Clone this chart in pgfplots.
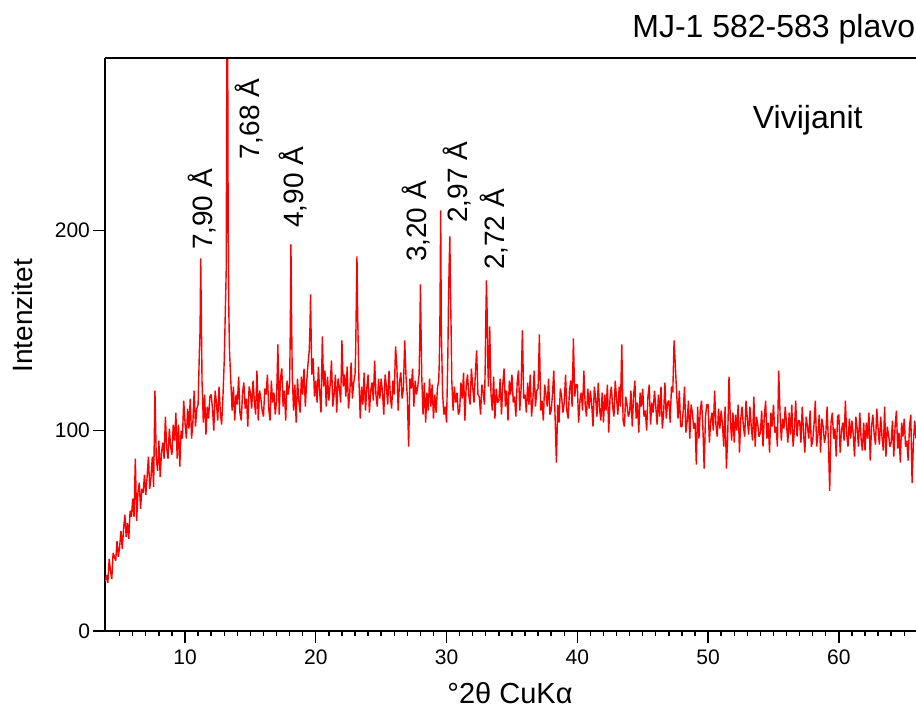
\documentclass[border=0pt]{standalone}
\usepackage{pgfplots}
\pgfplotsset{compat=1.18}
\usepackage{fontspec}
\setmainfont{Liberation Sans}
\begin{document}
\begin{tikzpicture}
\path[use as bounding box] (-52.5pt,-39pt) rectangle (405.5pt,315.5pt);
\begin{axis}[
  at={(0,0)}, anchor=south west,
  scale only axis, width=405.5pt, height=286.5pt,
  xmin=3.88, xmax=65.9, ymin=0, ymax=286,
  axis x line*=bottom, axis y line*=left,
  axis line style={line width=0.9pt, black, -},
  xtick={10,20,...,60}, minor xtick={5,6,...,65},
  ytick={0,100,200},
  tick align=outside,
  major tick length=6pt, minor tick length=2.5pt,
  tick style={line width=0.7pt, black},
  /pgf/number format/assume math mode=true,
  ticklabel style={font=\fontsize{10.5}{12}\selectfont},
  yticklabel style={xshift=2pt},
  xlabel={°2θ CuKα},
  xlabel style={at={(axis description cs:0.4994,-0.1257)}, anchor=base, font=\fontsize{14.5}{17}\selectfont},
  ylabel={Intenzitet},
  ylabel style={at={(axis description cs:-0.0888,0.55)}, anchor=base, font=\fontsize{14}{17}\selectfont},
  clip mode=individual,
]
\addplot[red, line width=0.7pt, line join=bevel, mark=none] coordinates {
(3.9,25)
(4.0,28)(4.1,24)(4.2,36)(4.3,30)(4.4,26)(4.5,39)(4.6,37)(4.7,35)(4.8,45)(4.9,37)
(5.0,42)(5.1,50)(5.2,41)(5.3,51)(5.4,58)(5.5,47)(5.6,54)(5.7,46)(5.8,60)(5.9,57)
(6.0,66)(6.1,57)(6.2,86)(6.3,55)(6.4,69)(6.5,74)(6.6,61)(6.7,71)(6.8,69)(6.9,78)
(7.0,68)(7.1,77)(7.2,87)(7.3,71)(7.4,77)(7.5,87)(7.6,72)(7.7,120)(7.8,86)(7.9,80)
(8.0,95)(8.1,77)(8.2,89)(8.3,94)(8.4,86)(8.5,107)(8.6,91)(8.7,86)(8.8,101)(8.9,92)
(9.0,88)(9.1,103)(9.2,95)(9.3,109)(9.4,86)(9.5,103)(9.6,82)(9.7,100)(9.8,96)(9.9,115)
(10.0,104)(10.1,96)(10.2,111)(10.3,101)(10.4,116)(10.5,96)(10.6,104)(10.7,120)(10.8,102)(10.9,111)
(11.0,113)(11.1,140)(11.15,150)(11.2,186)(11.25,155)(11.3,125)(11.4,104)(11.5,118)(11.6,98)(11.7,112)(11.8,106)(11.9,117)
(12.0,118)(12.1,111)(12.2,100)(12.3,120)(12.4,114)(12.5,105)(12.6,122)(12.7,109)(12.8,103)(12.9,117)
(13.0,135)(13.1,165)(13.15,180)(13.2,290)(13.25,320)(13.3,200)(13.35,160)(13.4,140)(13.5,125)(13.6,110)(13.7,122)(13.8,105)(13.9,118)
(14.0,113)(14.1,127)(14.2,109)(14.3,105)(14.4,119)(14.5,124)(14.6,111)(14.7,116)(14.8,102)(14.9,122)
(15.0,119)(15.1,111)(15.2,125)(15.3,115)(15.4,108)(15.5,130)(15.6,105)(15.7,120)(15.8,116)(15.9,110)
(16.0,107)(16.1,121)(16.2,118)(16.3,128)(16.4,111)(16.5,105)(16.6,125)(16.7,114)(16.8,119)(16.9,108)
(17.0,115)(17.1,143)(17.2,108)(17.3,126)(17.4,131)(17.5,112)(17.6,120)(17.7,105)(17.8,125)(17.9,118)
(18.0,124)(18.05,150)(18.1,193)(18.15,155)(18.2,128)(18.3,110)(18.4,123)(18.5,104)(18.6,126)(18.7,115)(18.8,109)(18.9,127)
(19.0,118)(19.1,131)(19.2,112)(19.3,124)(19.4,133)(19.5,140)(19.55,150)(19.6,168)(19.65,145)(19.7,128)(19.8,136)(19.9,117)
(20.0,125)(20.1,114)(20.2,132)(20.3,119)(20.4,109)(20.5,147)(20.6,122)(20.7,130)(20.8,112)(20.9,127)
(21.0,115)(21.1,123)(21.2,135)(21.3,112)(21.4,118)(21.5,128)(21.6,109)(21.7,126)(21.8,122)(21.9,114)
(22.0,145)(22.1,122)(22.2,128)(22.3,117)(22.4,132)(22.5,111)(22.6,119)(22.7,134)(22.8,116)(22.9,124)
(23.0,128)(23.05,140)(23.1,165)(23.15,187)(23.2,158)(23.3,125)(23.4,106)(23.5,122)(23.6,113)(23.7,129)(23.8,110)(23.9,121)
(24.0,128)(24.1,109)(24.2,120)(24.3,124)(24.4,115)(24.5,135)(24.6,118)(24.7,112)(24.8,126)(24.9,116)
(25.0,126)(25.1,119)(25.2,108)(25.3,128)(25.4,122)(25.5,113)(25.6,130)(25.7,117)(25.8,111)(25.9,125)
(26.0,118)(26.1,142)(26.2,132)(26.3,110)(26.4,124)(26.5,129)(26.6,116)(26.7,121)(26.8,145)(26.9,127)
(27.0,117)(27.1,92)(27.2,126)(27.3,121)(27.4,131)(27.5,112)(27.6,125)(27.7,118)(27.8,122)(27.9,128)(27.95,145)
(28.0,173)(28.05,150)(28.1,128)(28.2,108)(28.3,124)(28.4,104)(28.5,119)(28.6,110)(28.7,126)(28.8,112)(28.9,123)
(29.0,106)(29.1,118)(29.2,109)(29.3,121)(29.4,125)(29.45,135)(29.5,160)(29.55,210)(29.6,150)(29.7,118)(29.8,108)(29.9,112)
(30.0,104)(30.1,138)(30.15,165)(30.2,183)(30.25,197)(30.3,170)(30.35,150)(30.4,125)(30.5,110)(30.6,122)(30.7,114)(30.8,119)(30.9,108)
(31.0,110)(31.1,124)(31.2,116)(31.3,129)(31.4,105)(31.5,122)(31.6,128)(31.7,118)(31.8,113)(31.9,131)
(32.0,122)(32.1,114)(32.2,128)(32.3,140)(32.4,118)(32.5,117)(32.6,108)(32.7,123)(32.8,119)(32.9,113)
(32.95,130)(33.0,155)(33.05,175)(33.1,160)(33.15,135)(33.2,122)(33.3,152)(33.4,118)(33.5,110)(33.6,127)(33.7,106)(33.8,121)(33.9,114)
(34.0,115)(34.1,126)(34.2,108)(34.3,123)(34.4,131)(34.5,112)(34.6,120)(34.7,105)(34.8,125)(34.9,118)
(35.0,128)(35.1,114)(35.2,117)(35.3,107)(35.4,124)(35.5,130)(35.6,110)(35.7,121)(35.8,150)(35.9,116)
(36.0,118)(36.1,109)(36.2,124)(36.3,113)(36.4,128)(36.5,107)(36.6,115)(36.7,130)(36.8,112)(36.9,120)
(37.0,121)(37.1,148)(37.2,110)(37.3,115)(37.4,105)(37.5,123)(37.6,118)(37.7,112)(37.8,126)(37.9,108)
(38.0,110)(38.1,118)(38.2,130)(38.3,107)(38.4,84)(38.5,113)(38.6,104)(38.7,121)(38.8,117)(38.9,109)
(39.0,114)(39.1,128)(39.2,110)(39.3,106)(39.4,120)(39.5,125)(39.6,112)(39.7,146)(39.8,117)(39.9,123)
(40.0,123)(40.1,104)(40.2,115)(40.3,119)(40.4,110)(40.5,130)(40.6,113)(40.7,107)(40.8,121)(40.9,111)
(41.0,120)(41.1,113)(41.2,102)(41.3,122)(41.4,116)(41.5,107)(41.6,124)(41.7,111)(41.8,105)(41.9,119)
(42.0,104)(42.1,118)(42.2,110)(42.3,123)(42.4,99)(42.5,116)(42.6,122)(42.7,112)(42.8,107)(42.9,125)
(43.0,116)(43.1,108)(43.2,122)(43.3,112)(43.4,143)(43.5,105)(43.6,102)(43.7,117)(43.8,113)(43.9,107)
(44.0,109)(44.1,120)(44.2,102)(44.3,117)(44.4,125)(44.5,106)(44.6,114)(44.7,99)(44.8,119)(44.9,112)
(45.0,121)(45.1,107)(45.2,110)(45.3,100)(45.4,117)(45.5,123)(45.6,103)(45.7,114)(45.8,109)(45.9,120)
(46.0,112)(46.1,103)(46.2,118)(46.3,107)(46.4,122)(46.5,101)(46.6,109)(46.7,124)(46.8,106)(46.9,114)
(47.0,115)(47.1,104)(47.2,122)(47.3,119)(47.4,145)(47.5,132)(47.6,118)(47.7,106)(47.8,120)(47.9,102)
(48.0,102)(48.1,110)(48.2,122)(48.3,99)(48.4,105)(48.5,115)(48.6,96)(48.7,113)(48.8,109)(48.9,101)
(49.0,104)(49.1,83)(49.2,112)(49.3,96)(49.4,110)(49.5,115)(49.6,102)(49.7,81)(49.8,107)(49.9,113)
(50.0,113)(50.1,94)(50.2,105)(50.3,109)(50.4,100)(50.5,120)(50.6,103)(50.7,97)(50.8,111)(50.9,101)
(51.0,110)(51.1,103)(51.2,92)(51.3,112)(51.4,81)(51.5,97)(51.6,127)(51.7,106)(51.8,95)(51.9,109)
(52.0,94)(52.1,108)(52.2,100)(52.3,113)(52.4,89)(52.5,106)(52.6,112)(52.7,102)(52.8,97)(52.9,115)
(53.0,106)(53.1,98)(53.2,112)(53.3,102)(53.4,95)(53.5,117)(53.6,92)(53.7,107)(53.8,103)(53.9,97)
(54.0,99)(54.1,110)(54.2,92)(54.3,107)(54.4,115)(54.5,96)(54.6,104)(54.7,89)(54.8,109)(54.9,102)
(55.0,113)(55.1,99)(55.2,102)(55.3,92)(55.4,130)(55.5,109)(55.6,95)(55.7,106)(55.8,101)(55.9,112)
(56.0,103)(56.1,94)(56.2,109)(56.3,98)(56.4,113)(56.5,92)(56.6,100)(56.7,115)(56.8,97)(56.9,105)
(57.0,105)(57.1,94)(57.2,112)(57.3,99)(57.4,89)(57.5,107)(57.6,102)(57.7,96)(57.8,110)(57.9,92)
(58.0,95)(58.1,103)(58.2,115)(58.3,92)(58.4,98)(58.5,108)(58.6,89)(58.7,106)(58.8,102)(58.9,94)
(59.0,98)(59.1,112)(59.2,94)(59.3,70)(59.4,104)(59.5,109)(59.6,96)(59.7,101)(59.8,87)(59.9,107)
(60.0,108)(60.1,89)(60.2,100)(60.3,104)(60.4,95)(60.5,115)(60.6,98)(60.7,92)(60.8,106)(60.9,96)
(61.0,105)(61.1,98)(61.2,87)(61.3,107)(61.4,101)(61.5,92)(61.6,109)(61.7,96)(61.8,90)(61.9,104)
(62.0,90)(62.1,104)(62.2,96)(62.3,109)(62.4,85)(62.5,102)(62.6,108)(62.7,98)(62.8,93)(62.9,111)
(63.0,101)(63.1,93)(63.2,107)(63.3,97)(63.4,90)(63.5,112)(63.6,87)(63.7,102)(63.8,98)(63.9,92)
(64.0,94)(64.1,105)(64.2,87)(64.3,102)(64.4,110)(64.5,91)(64.6,99)(64.7,84)(64.8,104)(64.9,97)
(65.0,106)(65.1,92)(65.2,95)(65.3,85)(65.4,102)(65.5,108)(65.6,74)(65.7,94)(65.8,105)(65.9,96)
(66.0,99)
};
\draw[line width=0.9pt, black] (rel axis cs:0,1) -- (rel axis cs:1,1);
\node[anchor=base west, inner sep=0, font=\fontsize{16}{19}\selectfont] at (rel axis cs:0.6498,1.0349) {MJ-1 582-583 plavo};
\node[anchor=base west, inner sep=0, font=\fontsize{16}{19}\selectfont] at (axis cs:53.4,251) {Vivijanit};
\begin{scope}[every node/.style={rotate=90, anchor=base west, inner sep=0, font=\fontsize{14}{17}\selectfont}]
\node at (axis cs:12.07,190) {7,90 Å};
\node at (axis cs:15.73,235) {7,68 Å};
\node at (axis cs:19.09,201) {4,90 Å};
\node at (axis cs:28.48,184) {3,20 Å};
\node at (axis cs:31.61,203.5) {2,97 Å};
\node at (axis cs:34.43,180) {2,72 Å};
\end{scope}
\end{axis}
\end{tikzpicture}
\end{document}
